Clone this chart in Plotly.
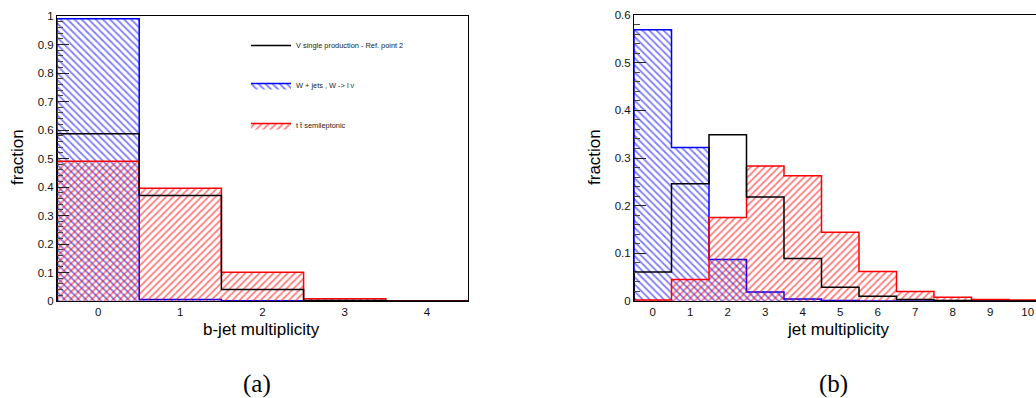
import numpy as np
import plotly.graph_objects as go

# ---------------- data ----------------
bjet_bins = [0, 1, 2, 3, 4]
bjet_vsingle = [0.587, 0.370, 0.040, 0.002, 0.0]
bjet_wjets = [0.990, 0.005, 0.0005, 0.0, 0.0]
bjet_ttbar = [0.490, 0.396, 0.101, 0.008, 0.0005]

jet_bins = [0, 1, 2, 3, 4, 5, 6, 7, 8, 9, 10]
jet_vsingle = [0.061, 0.246, 0.349, 0.218, 0.089, 0.029, 0.010, 0.003, 0.001, 0.0, 0.0]
jet_wjets = [0.569, 0.322, 0.087, 0.019, 0.004, 0.001, 0.0, 0.0, 0.0, 0.0, 0.0]
jet_ttbar = [0.002, 0.045, 0.175, 0.283, 0.263, 0.144, 0.062, 0.020, 0.008, 0.003, 0.002]

name_v = "V single production - Ref. point 2"
name_w = "W + jets , W -> l \u03bd"
name_t = "t t\u0304 semileptonic"

W, H = 1036, 398
FONT = "Liberation Sans"


def step(bins, vals):
    b = np.asarray(bins, dtype=float)
    edges = np.append(b - 0.5, b[-1] + 0.5)
    xs = [edges[0]] + list(edges[:-1]) + [edges[-1], edges[-1]]
    ys = [0.0] + list(vals) + [vals[-1], 0.0]
    return xs, ys


fig = go.Figure()


def add_hist(bins, vals, color, shape, name, xa, ya, show, rank):
    xs, ys = step(bins, vals)
    kw = {}
    if shape is not None:
        kw = dict(
            fill="tozeroy",
            fillcolor="rgba(0,0,0,0)",
            fillpattern=dict(shape=shape, fgcolor=color, bgcolor="rgba(0,0,0,0)",
                             fillmode="overlay", size=5, solidity=0.35),
        )
    fig.add_trace(go.Scatter(
        x=xs, y=ys, mode="lines", line=dict(color=color, width=1.5, shape="hv"),
        name=name, xaxis=xa, yaxis=ya, showlegend=show, legendrank=rank,
        legendgroup=name, hoverinfo="skip", **kw))


# left panel
add_hist(bjet_bins, bjet_wjets, "#0000ff", "\\", name_w, "x", "y", True, 2)
add_hist(bjet_bins, bjet_ttbar, "#ff0000", "/", name_t, "x", "y", True, 3)
add_hist(bjet_bins, bjet_vsingle, "#000000", None, name_v, "x", "y", True, 1)
# right panel
add_hist(jet_bins, jet_wjets, "#0000ff", "\\", name_w, "x2", "y2", False, 2)
add_hist(jet_bins, jet_ttbar, "#ff0000", "/", name_t, "x2", "y2", False, 3)
add_hist(jet_bins, jet_vsingle, "#000000", None, name_v, "x2", "y2", False, 1)

ybot = 1 - 301 / H
ytop_l = 1 - 16 / H
ytop_r = 1 - 15 / H

tickfont = dict(family=FONT, size=11.5, color="#111")

common_x = dict(showgrid=False, zeroline=False, showline=True, linecolor="black",
                linewidth=1, ticks="", tickfont=tickfont, automargin=False)
common_y = dict(showgrid=False, zeroline=False, showline=True, linecolor="black",
                linewidth=1, ticks="inside", ticklen=12, tickcolor="#222",
                tickfont=tickfont, dtick=0.1, tick0=0, automargin=False,
                minor=dict(ticks="inside", ticklen=6, dtick=0.02, tickcolor="#444"))

fig.update_layout(
    width=W, height=H,
    margin=dict(l=0, r=0, t=0, b=0, autoexpand=False),
    paper_bgcolor="white", plot_bgcolor="white",
    showlegend=True,
    legend=dict(x=246 / W, y=1 - 31 / H, xanchor="left", yanchor="top",
                bgcolor="rgba(0,0,0,0)", font=dict(family=FONT, size=7.4, color="#222"),
                tracegroupgap=21, itemwidth=40, traceorder="grouped"),
    xaxis=dict(domain=[57 / W, 468 / W], range=[-0.5, 4.5], anchor="y",
               tickvals=bjet_bins, mirror=True, **common_x),
    yaxis=dict(domain=[ybot, ytop_l], range=[0, 1.0], anchor="x", mirror=True, **common_y),
    xaxis2=dict(domain=[634 / W, 1.0], range=[-0.5, 10.22], anchor="y2",
                tickvals=jet_bins, mirror=True, **common_x),
    yaxis2=dict(domain=[ybot, ytop_r], range=[0, 0.6], anchor="x2", mirror=False, **common_y),
)

title_font = dict(family=FONT, size=17, color="black")
label_font = dict(family="Liberation Serif", size=25, color="black")
ann = [
    dict(text="fraction", x=17 / W, y=1 - 157 / H, textangle=-90, font=title_font),
    dict(text="fraction", x=594 / W, y=1 - 157 / H, textangle=-90, font=title_font),
    dict(text="b-jet multiplicity", x=261 / W, y=1 - 329 / H, font=title_font),
    dict(text="jet multiplicity", x=838 / W, y=1 - 329 / H, font=title_font),
    dict(text="(a)", x=257 / W, y=1 - 384 / H, font=label_font),
    dict(text="(b)", x=833 / W, y=1 - 384 / H, font=label_font),
]
for a in ann:
    fig.add_annotation(xref="paper", yref="paper", showarrow=False,
                       xanchor="center", yanchor="middle", **a)

fig.write_html("out.html", config={"displayModeBar": False},
               post_script="document.body.style.margin='0';document.body.style.overflow='hidden';")
